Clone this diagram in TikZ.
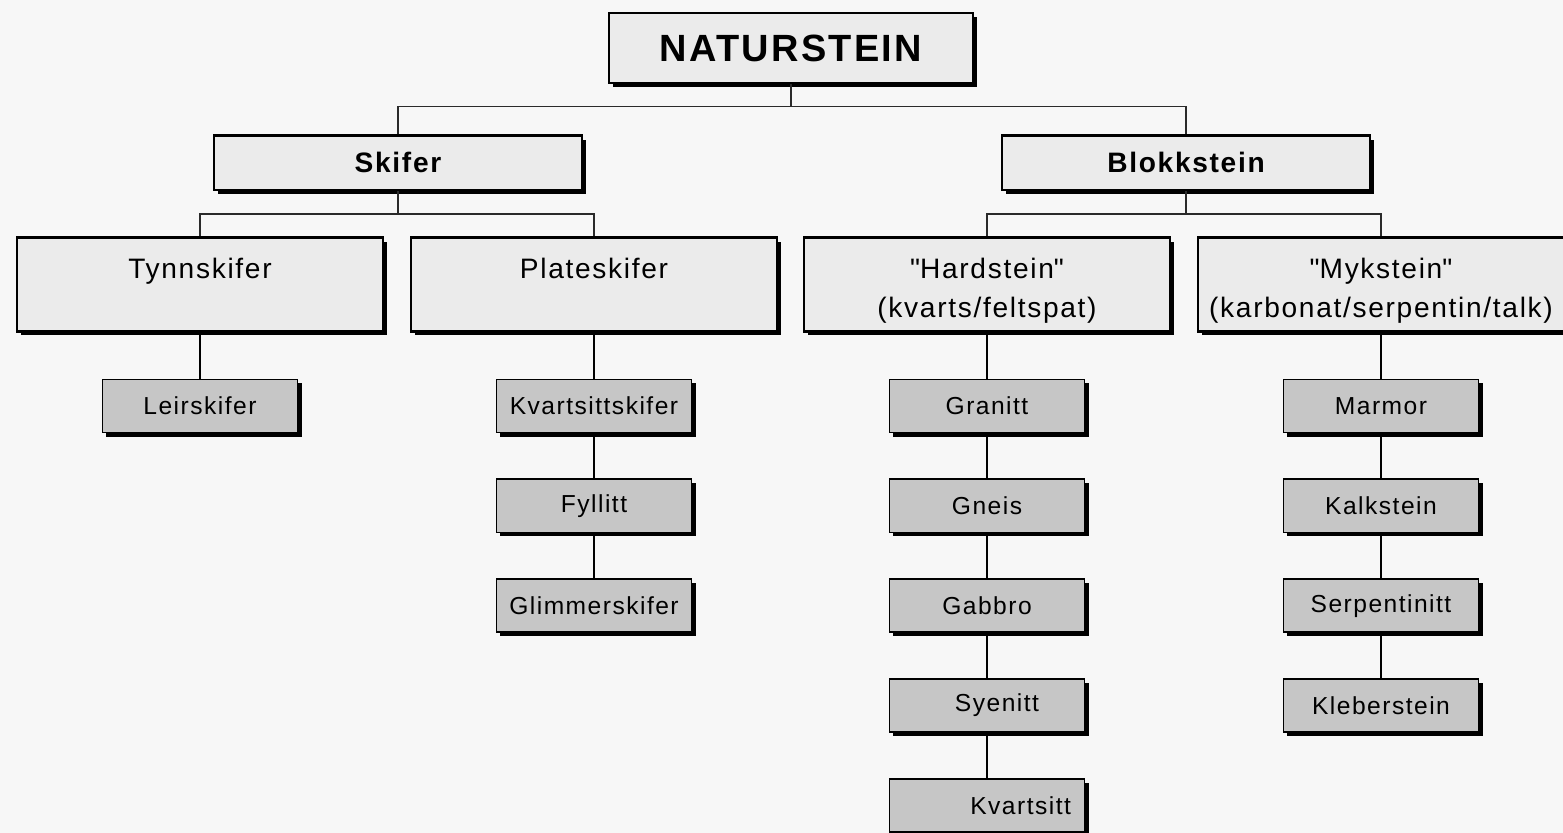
\documentclass[tikz,border=0pt]{standalone}
\usepackage{fontspec}
\setmainfont{Liberation Sans}[LetterSpace=6]
\usepackage{xcolor}
\definecolor{stonePaper}{HTML}{F7F7F7}
\definecolor{stoneLight}{HTML}{EBEBEB}
\definecolor{stoneLeaf}{HTML}{C6C6C6}
\definecolor{stoneLine}{HTML}{2A2A2A}
\usepackage{tikz}
\usetikzlibrary{positioning,shadows}
\newcommand{\toppad}{\rule{0pt}{23.5pt}}
\newcommand{\botpad}{\rule[-5pt]{0pt}{5pt}}
\tikzset{
    titlebox/.style={
        draw=black,
        fill=stoneLight,
        rectangle,
        line width=1.8pt,
        minimum width=9.11cm,
        minimum height=1.76cm,
        font=\fontsize{27}{32}\selectfont\bfseries,
        drop shadow={shadow xshift=0.1cm, shadow yshift=-0.1cm, fill=black, opacity=1}
    },
    headbox/.style={
        draw=black,
        fill=stoneLight,
        rectangle,
        line width=1.8pt,
        minimum width=9.19cm,
        minimum height=1.36cm,
        font=\fontsize{20}{24}\selectfont\bfseries,
        drop shadow={shadow xshift=0.1cm, shadow yshift=-0.1cm, fill=black, opacity=1}
    },
    groupbox/.style={
        draw=black,
        fill=stoneLight,
        rectangle,
        line width=1.8pt,
        align=center,
        minimum width=9.16cm,
        minimum height=2.34cm,
        font=\fontsize{20}{27.5}\selectfont,
        drop shadow={shadow xshift=0.1cm, shadow yshift=-0.1cm, fill=black, opacity=1}
    },
    rockbox/.style={
        draw=black,
        fill=stoneLeaf,
        rectangle,
        line width=1.2pt,
        minimum width=4.88cm,
        minimum height=1.33cm,
        font=\fontsize{17.5}{21}\selectfont,
        drop shadow={shadow xshift=0.1cm, shadow yshift=-0.1cm, fill=black, opacity=1}
    },
    bus/.style={
        line width=1.3pt,
        color=stoneLine
    },
    stem/.style={
        line width=2pt,
        color=black
    }
}

\begin{document}
\begin{tikzpicture}[node distance=1.125cm]
    \useasboundingbox[fill=stonePaper] (0,0) rectangle (39.075,-20.825);

    % Top level - Naturstein
    \node[titlebox] (nat) at (19.775,-1.2) {NATURSTEIN};

    % Second level - Skifer and Blokkstein
    \node[headbox, below=1.25cm of nat, xshift=-9.825cm] (skifer) {Skifer};
    \node[headbox, below=1.25cm of nat, xshift=9.875cm] (blokk) {Blokkstein};

    % Third level - groups
    \node[groupbox, below=of skifer, xshift=-4.95cm] (tynn) {\toppad Tynnskifer\\\botpad};
    \node[groupbox, below=of skifer, xshift=4.9cm] (plate) {\toppad Plateskifer\\\botpad};
    \node[groupbox, below=of blokk, xshift=-4.975cm] (hard) {\toppad\textquotedbl Hardstein\textquotedbl\\(kvarts/feltspat)};
    \node[groupbox, below=of blokk, xshift=4.875cm] (myk) {\toppad\textquotedbl Mykstein\textquotedbl\\(karbonat/serpentin/talk)};

    % Fourth level - Tynnskifer
    \node[rockbox, below=1.15cm of tynn] (leir) {Leirskifer};

    % Fourth level - Plateskifer
    \node[rockbox, below=1.15cm of plate] (kvsk) {Kvartsittskifer};
    \node[rockbox, below=of kvsk] (fyll) {Fyllitt};
    \node[rockbox, below=of fyll] (glim) {Glimmerskifer};

    % Fourth level - Hardstein
    \node[rockbox, below=1.15cm of hard] (gran) {Granitt};
    \node[rockbox, below=of gran] (gneis) {Gneis};
    \node[rockbox, below=of gneis] (gabb) {Gabbro};
    \node[rockbox, below=of gabb] (syen) {\hspace*{0.5cm}Syenitt};
    \node[rockbox, below=of syen, text width=4.2cm, align=right] (kvar) {Kvartsitt};

    % Fourth level - Mykstein
    \node[rockbox, below=1.15cm of myk] (marm) {Marmor};
    \node[rockbox, below=of marm] (kalk) {Kalkstein};
    \node[rockbox, below=of kalk] (serp) {Serpentinitt};
    \node[rockbox, below=of serp] (kleb) {Kleberstein};

    % Connections
    \draw[bus] (nat.south) -- ++(0,-0.55) -| (skifer.north);
    \draw[bus] (nat.south) -- ++(0,-0.55) -| (blokk.north);
    \draw[bus] (skifer.south) -- ++(0,-0.575) -| (tynn.north);
    \draw[bus] (skifer.south) -- ++(0,-0.575) -| (plate.north);
    \draw[bus] (blokk.south) -- ++(0,-0.575) -| (hard.north);
    \draw[bus] (blokk.south) -- ++(0,-0.575) -| (myk.north);
    \draw[stem] (tynn.south) -- (leir.north);
    \draw[stem] (plate.south) -- (kvsk.north);
    \draw[stem] (kvsk.south) -- (fyll.north);
    \draw[stem] (fyll.south) -- (glim.north);
    \draw[stem] (hard.south) -- (gran.north);
    \draw[stem] (gran.south) -- (gneis.north);
    \draw[stem] (gneis.south) -- (gabb.north);
    \draw[stem] (gabb.south) -- (syen.north);
    \draw[stem] (syen.south) -- (kvar.north);
    \draw[stem] (myk.south) -- (marm.north);
    \draw[stem] (marm.south) -- (kalk.north);
    \draw[stem] (kalk.south) -- (serp.north);
    \draw[stem] (serp.south) -- (kleb.north);
\end{tikzpicture}
\end{document}
